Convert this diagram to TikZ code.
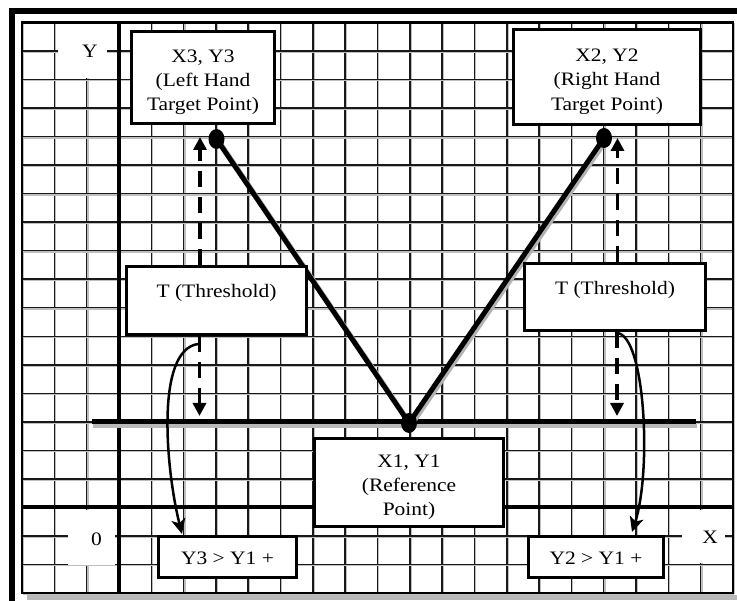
\documentclass[tikz,border=0pt]{standalone}
\usepackage{fontspec}
\setmainfont{Liberation Serif}[FakeStretch=1.13]
\usetikzlibrary{arrows.meta,shapes.geometric,calc}

\begin{document}
\begin{tikzpicture}[x=1pt, y=-1pt, font=\fontsize{19}{24.3}\selectfont,
    gridln/.style={line width=1.5pt, draw=black!90},
    gridshd/.style={line width=1.3pt, draw=gray!50},
    axisln/.style={line width=4.5pt, draw=black},
    tbox/.style={draw, line width=3pt, fill=white, align=center,
                 inner xsep=0pt, inner ysep=0pt},
    pointdot/.style={ellipse, fill=black, minimum width=16pt, minimum height=20pt,
                     inner sep=0pt},
    legln/.style={line width=5pt, draw=black},
    legshd/.style={line width=4.5pt, draw=gray!60},
    dasharr/.style={line width=3.5pt, dash pattern=on 16pt off 10pt,
                    -{Triangle[width=13pt,length=13pt]}},
    curvarr/.style={line width=2.5pt, -{Stealth[width=14pt,length=15pt,inset=4pt]}}]

    \useasboundingbox (0,0) rectangle (737,601);
    \fill[white] (0,0) rectangle (737,601);

    % Frame
    \draw[line width=6pt] (11.5,601) -- (11.5,11) -- (737,11);

    % Grid
    \foreach \i in {0,...,22}{
      \draw[gridshd] ({23.3+\i*32.318},23.5) -- ({23.3+\i*32.318},594.5);
      \draw[gridln] ({22+\i*32.318},22.5) -- ({22+\i*32.318},593);
    }
    \foreach \j in {0,...,20}{
      \draw[gridshd] (23,{23.8+\j*28.525}) -- (734,{23.8+\j*28.525});
      \draw[gridln] (22,{22.5+\j*28.525}) -- (733,{22.5+\j*28.525});
    }
    \draw[line width=2.5pt] (22,22.5) rectangle (733,593);
    \fill[gray!55] (27,595.5) rectangle (737,600);

    % Blank patches behind axis labels
    \fill[white] (58,24) rectangle (107,78);
    \fill[white] (68,510) rectangle (115,565);
    \fill[white] (682,510) rectangle (725,563);

    % Axes
    \draw[axisln] (118.95,22.5) -- (118.95,593);
    \draw[axisln, line width=4pt] (22,507.4) -- (733,507.4);

    % Reference line
    \draw[line width=4.5pt, gray!55] (93,426) -- (697,426);
    \draw[line width=5pt] (92,422) -- (696,422);

    % Legs and points
    \coordinate (PL) at (216.5,139);
    \coordinate (PR) at (604,138);
    \coordinate (PC) at (409,423);
    \draw[legshd] ([shift={(2.5,2)}]PL) -- ([shift={(2.5,2)}]PC);
    \draw[legshd] ([shift={(2.5,2)}]PR) -- ([shift={(2.5,2)}]PC);
    \draw[legln] (PL) -- (PC);
    \draw[legln] (PR) -- (PC);
    \node[pointdot] (DL) at (PL) {};
    \node[pointdot] (DR) at (PR) {};
    \node[pointdot] (DC) at (PC) {};

    % Target points
    \node[tbox, minimum width=143pt, text height=79.5pt, text depth=12.5pt] (LT) at (203,77.5)
      {X3, Y3\\(Left Hand\\Target Point)};
    \node[tbox, minimum width=187pt, text height=80.8pt, text depth=14.2pt] (RT) at (607,77)
      {X2, Y2\\(Right Hand\\Target Point)};

    % Thresholds
    \node[tbox, minimum width=180pt, text height=31.5pt, text depth=36.5pt] (TL) at (216.5,300.5)
      {T (Threshold)};
    \node[tbox, minimum width=181pt, text height=31.5pt, text depth=35.5pt] (TR) at (615,297)
      {T (Threshold)};

    % Reference point
    \node[tbox, minimum width=189pt, text height=77.5pt, text depth=10.5pt] (RP) at (409,482.5)
      {X1, Y1\\(Reference\\Point)};

    % Conditions
    \node[tbox, minimum width=138pt, text height=28.5pt, text depth=12.5pt] (YL) at (227.5,557)
      {Y3 > Y1 +};
    \node[tbox, minimum width=135pt, text height=28.5pt, text depth=12.5pt] (YR) at (596,557)
      {Y2 > Y1 +};

    % Threshold arrows
    \coordinate (LU) at (200,137);
    \coordinate (LD) at (199.5,416);
    \coordinate (RU) at (617.5,138);
    \coordinate (RD) at (617,416);
    \draw[dasharr] (TL.north -| LU) -- (LU);
    \draw[dasharr] (TL.south -| LD) -- (LD);
    \draw[dasharr] (TR.north -| RU) -- (RU);
    \draw[dasharr] (TR.south -| RD) -- (RD);

    \coordinate (CLs) at (198,344);
    \coordinate (CLe) at (182,534);
    \coordinate (CRs) at (617,333);
    \coordinate (CRe) at (632,532);
    \draw[curvarr] (CLs) .. controls (155,350) and (166,470) .. (CLe);
    \draw[curvarr] (CRs) .. controls (645,335) and (652,470) .. (CRe);

    % Axis labels
    \node (YA) at (90,51.5) {Y};
    \node (ZA) at (96.5,539.5) {0};
    \node (XA) at (710,537) {X};

\end{tikzpicture}
\end{document}
